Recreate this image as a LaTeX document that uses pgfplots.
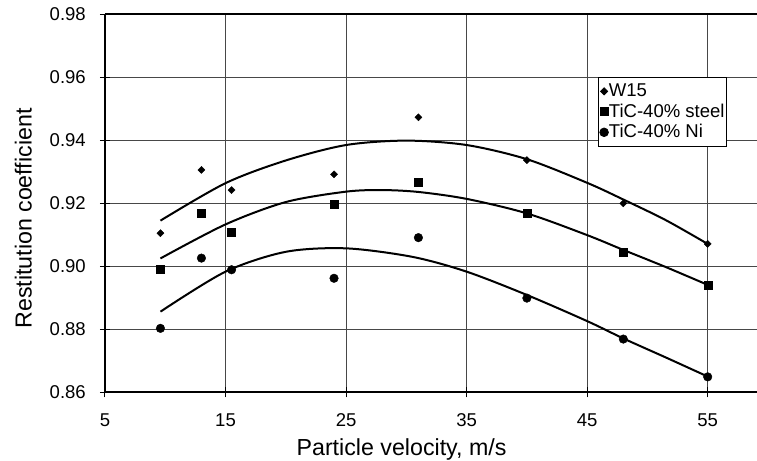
\documentclass[border=0pt]{standalone}
\usepackage{fontspec}
\setmainfont{Liberation Sans}
\usepackage{pgfplots}
\pgfplotsset{compat=1.18}
\newcommand{\tickfont}{\fontsize{18.6}{22}\selectfont}
\begin{document}
\begin{tikzpicture}
\begin{axis}[
  scale only axis,
  width=652bp, height=378bp,
  xmin=5, xmax=59.09, ymin=0.86, ymax=0.98,
  xtick={5,15,25,35,45,55},
  ytick={0.86,0.88,0.90,0.92,0.94,0.96,0.98},
  /pgf/number format/assume math mode=true,
  axis x line*=box, axis y line*=left,
  axis line style={-, line width=2bp, black},
  xtick pos=bottom, ytick pos=left,
  tick align=center, major tick length=10bp,
  tick style={black, line width=1bp},
  grid=major,
  major grid style={black!72, line width=0.9bp},
  y tick label style={font=\tickfont, anchor=east, inner sep=0pt, xshift=-14bp,
    /pgf/number format/fixed, /pgf/number format/fixed zerofill, /pgf/number format/precision=2},
  x tick label style={font=\tickfont, anchor=north, inner sep=0pt, yshift=-16bp},
  xlabel={Particle velocity, m/s},
  ylabel={Restitution coefficient},
  xlabel style={font=\fontsize{23.3}{28}\selectfont, at={(axis description cs:0.4548,-0.1659)}, anchor=base, inner sep=0pt},
  ylabel style={font=\fontsize{23.3}{28}\selectfont, at={(axis description cs:-0.1124,0.4598)}, anchor=base, inner sep=0pt},
  legend style={at={(axis description cs:0.756,0.835)}, anchor=north west,
    draw=black, line width=0.8bp, fill=white,
    font=\tickfont,
    inner xsep=1.5bp, inner ysep=4bp,
    nodes={inner sep=0.5bp, text height=15bp, text depth=4.5bp},
    /tikz/every odd column/.append style={text width=135bp},
    cells={anchor=west}},
  legend image code/.code={\draw[mark repeat=2,mark phase=2,#1] plot coordinates {(0bp,0bp) (5bp,0bp) (10bp,0bp)};},
]
\addplot[only marks, mark=square*, mark size=2.5bp, mark options={rotate=45, fill=black, draw=black}]
  coordinates {(9.6,0.9105) (13,0.9306) (15.5,0.9242) (24,0.9292) (31,0.9473) (40,0.9337) (48,0.9200) (55,0.9071)};
\addlegendentry{W15}
\addplot[only marks, mark=square*, mark size=4bp, mark options={fill=black, draw=black}]
  coordinates {(9.6,0.8990) (13,0.9168) (15.5,0.9107) (24,0.9196) (31,0.9267) (40,0.9168) (48,0.9046) (55,0.8940)};
\addlegendentry{TiC-40\% steel}
\addplot[only marks, mark=*, mark size=4.3bp, mark options={fill=black, draw=black}]
  coordinates {(9.6,0.8803) (13,0.9026) (15.5,0.8989) (24,0.8962) (31,0.9091) (40,0.8899) (48,0.8769) (55,0.8649)};
\addlegendentry{TiC-40\% Ni}
\addplot[black, line width=2bp, smooth, no marks, forget plot]
  coordinates {(9.6,0.9145) (15,0.9264) (20,0.9336) (25,0.9385) (30,0.9399) (35,0.9385) (40,0.9340) (45,0.9265) (48,0.9212) (51.5,0.9147) (55,0.9071)};
\addplot[black, line width=2bp, smooth, no marks, forget plot]
  coordinates {(9.6,0.9025) (15,0.9133) (20,0.9204) (25,0.9237) (28,0.9242) (31,0.9236) (35,0.9214) (40,0.9168) (45,0.9099) (48,0.9052) (51.5,0.8998) (55,0.8941)};
\addplot[black, line width=2bp, smooth, no marks, forget plot]
  coordinates {(9.6,0.8856) (15,0.8983) (20,0.9046) (25,0.9057) (30.5,0.9030) (35,0.8983) (40,0.8909) (45,0.8826) (48,0.8771) (51.5,0.8711) (55,0.8650)};
\end{axis}
\pgfresetboundingbox
\path[use as bounding box] ([shift={(-105bp,-68.7bp)}]current axis.south west) rectangle ([shift={(0bp,14.3bp)}]current axis.north east);
\end{tikzpicture}
\end{document}
